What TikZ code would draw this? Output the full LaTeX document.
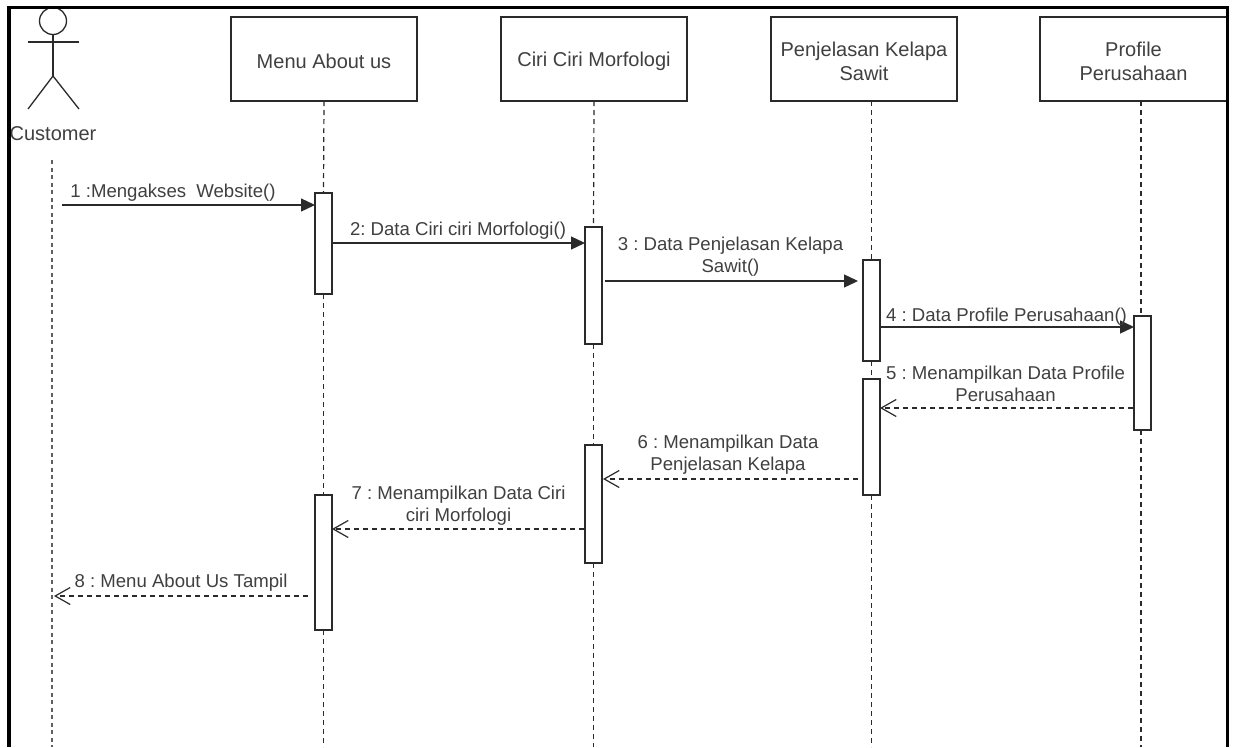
\documentclass[tikz,border=0pt]{standalone}
\usepackage{fontspec}
\setmainfont{Liberation Sans}
\frenchspacing
\usetikzlibrary{arrows.meta}
\definecolor{ink}{HTML}{2A2A2A}
\definecolor{txt}{HTML}{404040}
\newcommand\lowr[1]{\raisebox{-2pt}[\height][\depth]{#1}}
\tikzset{
  x=1pt,y=-1pt,
  every node/.style={inner sep=0pt,outer sep=0pt,text=txt},
  head/.style={draw=ink,line width=1.4pt,fill=white,minimum width=186pt,minimum height=84pt,align=center,font=\fontsize{20}{24}\selectfont},
  act/.style={draw=ink,line width=1.4pt,fill=white,minimum width=17pt},
  lab/.style={align=center,font=\fontsize{18.6}{22}\selectfont},
  life/.style={draw=ink,line width=1.2pt,dash pattern=on 5pt off 4pt},
  cust/.style={draw=gray!75!black,line width=1.6pt,dash pattern=on 4pt off 3.5pt},
  call/.style={draw=ink,line width=1.3pt,-{Triangle[length=14pt,width=13pt]}},
  ret/.style={draw=ink,line width=1.2pt,dash pattern=on 5pt off 4pt,-{Straight Barb[length=15pt,width=17pt,line width=1.2pt]}},
  actor/.style={draw=ink,line width=1.3pt},
  frame/.style={draw=black,line width=3.2pt}
}
\begin{document}
\begin{tikzpicture}
\useasboundingbox[fill=white] (0,0) rectangle (1234,747);
% headers
\node[head] (menu) at (324,59) {\lowr{Menu About us}};
\node[head] (ciri) at (594,59) {\lowr{Ciri Ciri Morfologi}};
\node[head] (penj) at (864,59) {\lowr{Penjelasan Kelapa}\\\lowr{Sawit}};
\node[head,minimum width=187pt] (prof) at (1133.5,59) {\lowr{Profile}\\\lowr{Perusahaan}};
% activations
\node[act,minimum height=101pt] (a1) at (323.5,243.5) {};
\node[act,minimum height=135pt] (a8) at (323.5,562.5) {};
\node[act,minimum height=117pt] (a2) at (593.5,285.5) {};
\node[act,minimum height=118pt] (a7) at (593.5,504) {};
\node[act,minimum height=101pt] (a3) at (871.5,310.5) {};
\node[act,minimum height=116pt] (a6) at (871.5,437) {};
\node[act,minimum height=114pt] (a4) at (1142.5,373) {};
% end points
\coordinate (eM) at (323.5,747);
\coordinate (eC) at (593.5,747);
\coordinate (eP) at (871.5,747);
\coordinate (eF) at (1141,747);
\coordinate (sU) at (52,160);
\coordinate (eU) at (52,747);
% lifelines
\draw[life] (menu.south) -- (a1.north);
\draw[life] (a1.south) -- (a8.north);
\draw[life] (a8.south) -- (eM);
\draw[life] (ciri.south) -- (a2.north);
\draw[life] (a2.south) -- (a7.north);
\draw[life] (a7.south) -- (eC);
\draw[life] (a3.north |- penj.south) -- (a3.north);
\draw[life] (a3.south) -- (a6.north);
\draw[life] (a6.south) -- (eP);
\draw[life] (eF |- prof.south) -- (eF |- a4.north);
\draw[life] (eF |- a4.south) -- (eF);
\draw[cust] (sU) -- (eU);
% actor
\node[draw=ink,line width=1.3pt,circle,minimum size=27pt] (hd) at (53,21) {};
\coordinate (hip) at (53,76);
\coordinate (armL) at (28,42);
\coordinate (armR) at (79,42);
\coordinate (legL) at (28,109);
\coordinate (legR) at (79,109);
\draw[actor] (hd.south) -- (hip);
\draw[actor] (armL) -- (armR);
\draw[actor] (legL) -- (hip) -- (legR);
\node[font=\fontsize{20}{24}\selectfont] (cname) at (53,134) {Customer};
% messages
\coordinate (m1s) at (62,205);
\draw[call] (m1s) -- (a1.west |- m1s);
\coordinate (m2s) at (332,243);
\draw[call] (a1.east |- m2s) -- (a2.west |- m2s);
\coordinate (m3s) at (605,281);
\coordinate (m3e) at (858,281);
\draw[call] (m3s) -- (m3e);
\coordinate (m4s) at (880,327);
\draw[call] (a3.east |- m4s) -- (a4.west |- m4s);
\coordinate (m5s) at (1133,408);
\draw[ret] (m5s) -- (a6.east |- m5s);
\coordinate (m6s) at (858,479);
\coordinate (m6e) at (603,479);
\draw[ret] (m6s) -- (m6e);
\coordinate (m7s) at (584,529);
\draw[ret] (m7s) -- (a8.east |- m7s);
\coordinate (m8s) at (308,596);
\coordinate (m8e) at (54,596);
\draw[ret] (m8s) -- (m8e);
% labels
\node[lab] (l1) at (173,192.5) {1 :Mengakses\hspace{5pt} Website()};
\node[lab] (l2) at (458,231) {2: Data Ciri ciri Morfologi()};
\node[lab] (l3) at (730.5,257) {3 : Data Penjelasan Kelapa\\Sawit()};
\node[lab] (l4) at (1006.5,316.5) {4 : Data Profile Perusahaan()};
\node[lab] (l5) at (1005.5,384) {5 : Menampilkan Data Profile\\Perusahaan};
\node[lab] (l6) at (728,454.5) {6 : Menampilkan Data\\Penjelasan Kelapa};
\node[lab] (l7) at (458.5,506) {7 : Menampilkan Data Ciri\\ciri Morfologi};
\node[lab] (l8) at (181,583) {8 : Menu About Us Tampil};
% frame
\draw[frame] (9,747) -- (9,7.5) -- (1227.5,7.5) -- (1227.5,747);
\end{tikzpicture}
\end{document}
